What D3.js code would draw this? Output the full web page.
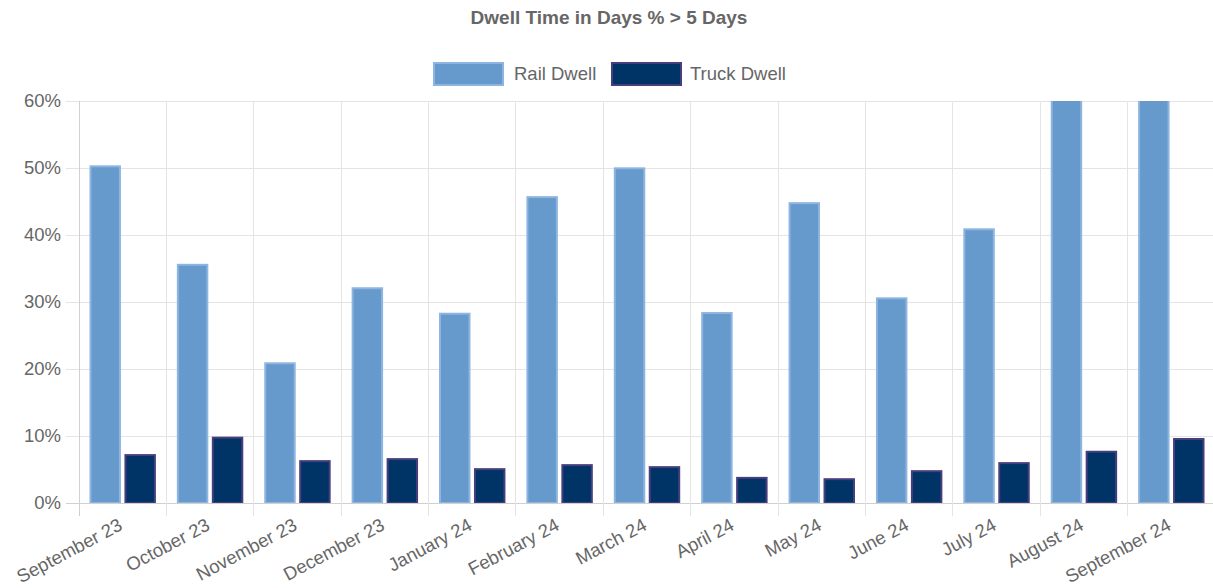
<!DOCTYPE html>
<html><head><meta charset="utf-8">
<script src="https://cdn.jsdelivr.net/npm/d3@7"></script>
<style>body{margin:0;background:#fff;} svg{display:block;}</style>
</head><body>
<svg id="chart" width="1213" height="588"></svg>
<script>
const categories = ["September 23","October 23","November 23","December 23","January 24","February 24","March 24","April 24","May 24","June 24","July 24","August 24","September 24"];
const railDwell = [50.4, 35.7, 21.0, 32.2, 28.4, 45.8, 50.1, 28.5, 44.9, 30.7, 41.0, 65.0, 68.0];
const truckDwell = [7.3, 9.9, 6.4, 6.7, 5.2, 5.8, 5.5, 3.9, 3.7, 4.9, 6.1, 7.8, 9.7];
const seriesNames = ["Rail Dwell", "Truck Dwell"];
const yTicks = [0, 10, 20, 30, 40, 50, 60];

(function () {
const svg = d3.select("#chart");
const font = "'Liberation Sans', Arial, sans-serif";
const pLeft = 79, pRight = 1215, pTop = 101, pBottom = 503;

const x = d3.scaleBand().domain(categories).range([pLeft, pRight]).paddingInner(0).paddingOuter(0);
const inner = d3.scaleBand().domain(seriesNames).range([0, x.bandwidth() * 0.8]).padding(0);
const y = d3.scaleLinear().domain([0, 60]).range([pBottom, pTop]);

const fills = {"Rail Dwell": "#6699cc", "Truck Dwell": "#003366"};
const strokes = {"Rail Dwell": "#8db5df", "Truck Dwell": "#463e7d"};

// Title
svg.append("text").attr("x", 609).attr("y", 24).attr("text-anchor", "middle")
  .attr("font-family", font).attr("font-size", 19).attr("font-weight", "bold").attr("fill", "#666")
  .text("Dwell Time in Days % > 5 Days");

// Grid
const grid = svg.append("g");
yTicks.forEach(t => {
  grid.append("line").attr("x1", pLeft - 13).attr("x2", pRight).attr("y1", y(t)).attr("y2", y(t))
    .attr("stroke", t === 0 ? "#d0d0d0" : "#e4e4e4").attr("stroke-width", 1).attr("shape-rendering", "crispEdges");
});
const vlines = categories.map(c => x(c)).concat([pRight]);
vlines.forEach((vx, i) => {
  grid.append("line").attr("x1", vx).attr("x2", vx).attr("y1", pTop).attr("y2", pBottom + 13)
    .attr("stroke", i === 0 ? "#d0d0d0" : "#e4e4e4").attr("stroke-width", 1).attr("shape-rendering", "crispEdges");
});

// Y labels
const yAxis = d3.axisLeft(y).tickValues(yTicks).tickFormat(d => d + "%").tickSize(0).tickPadding(18);
const ya = svg.append("g").attr("transform", `translate(${pLeft},0)`).call(yAxis);
ya.select(".domain").remove();
ya.selectAll("text").attr("font-family", font).attr("font-size", 18.5).attr("fill", "#666");

// Bars
svg.append("defs").append("clipPath").attr("id", "clip")
  .append("rect").attr("x", pLeft).attr("y", pTop).attr("width", pRight - pLeft).attr("height", pBottom - pTop);
const bars = svg.append("g").attr("clip-path", "url(#clip)");
const data = [];
categories.forEach((c, i) => {
  data.push({c, s: "Rail Dwell", v: railDwell[i]});
  data.push({c, s: "Truck Dwell", v: truckDwell[i]});
});
const bw = inner.bandwidth() * 0.9;
bars.selectAll("rect").data(data).enter().append("rect")
  .attr("x", d => x(d.c) + x.bandwidth() * 0.1 + inner(d.s) + (inner.bandwidth() - bw) / 2 + 1)
  .attr("y", d => y(d.v) + 1)
  .attr("width", bw - 2)
  .attr("height", d => y(0) - y(d.v) - 1)
  .attr("fill", d => fills[d.s])
  .attr("stroke", d => strokes[d.s])
  .attr("stroke-width", 2);

// X labels
const xl = svg.append("g");
categories.forEach(c => {
  const cx = x(c) + x.bandwidth() / 2;
  xl.append("text").attr("transform", `translate(${cx + 1},${pBottom + 26}) rotate(-28)`)
    .attr("text-anchor", "end").attr("font-family", font).attr("font-size", 18.5).attr("fill", "#666")
    .text(c);
});

// Legend
const legend = [{s: "Rail Dwell", bx: 434, tx: 514}, {s: "Truck Dwell", bx: 612, tx: 690}];
legend.forEach(l => {
  svg.append("rect").attr("x", l.bx).attr("y", 63).attr("width", 69).attr("height", 22)
    .attr("fill", fills[l.s]).attr("stroke", strokes[l.s]).attr("stroke-width", 2);
  svg.append("text").attr("x", l.tx).attr("y", 80).attr("font-family", font).attr("font-size", 18.5)
    .attr("fill", "#666").text(l.s);
});
})();
</script>
</body></html>
